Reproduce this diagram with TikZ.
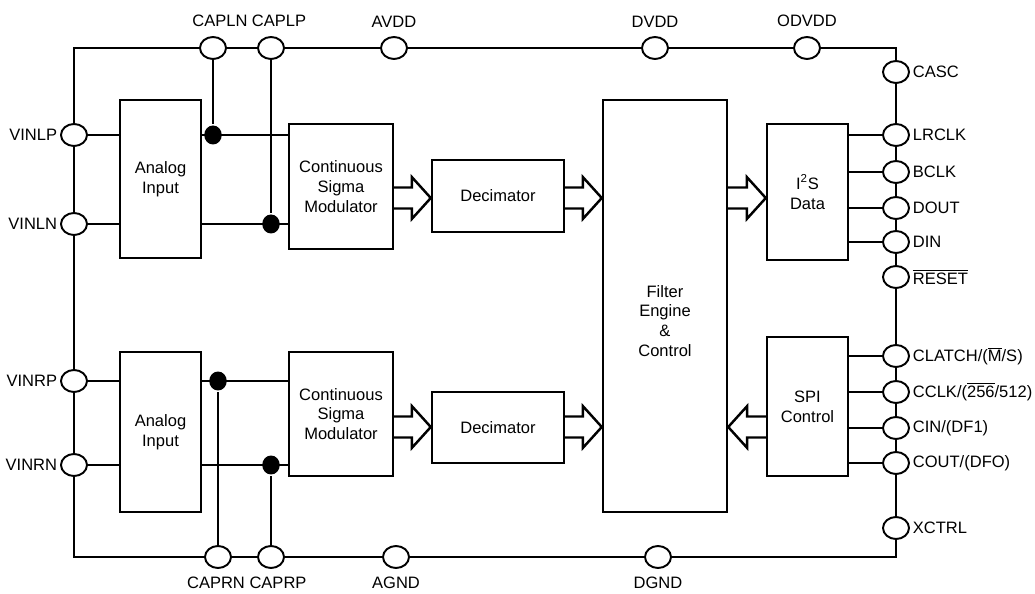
\documentclass[tikz,border=0pt]{standalone}
\usepackage{fontspec}
\setmainfont{Liberation Sans}
\usetikzlibrary{calc,shapes.geometric}

% hollow bus arrow from tail (#1) to tip (#2)
\newcommand{\busarrow}[2]{%
  \draw[bus] ($(#1)+(0,-10.5)$) -- ($(#2)!0.38cm!(#1)+(0,-10.5)$)
    -- ($(#2)!0.38cm!(#1)+(0,-21)$) -- (#2)
    -- ($(#2)!0.38cm!(#1)+(0,21)$) -- ($(#2)!0.38cm!(#1)+(0,10.5)$)
    -- ($(#1)+(0,10.5)$);}

\begin{document}
\begin{tikzpicture}[x=0.02cm,y=-0.02cm,line width=1.4pt,
  every node/.append style={font=\fontsize{9.4}{11.3}\selectfont},
  block/.style={draw,rectangle,align=center,inner sep=2pt,line width=1.4pt},
  iopad/.style={ellipse,draw,fill=white,line width=1.1pt,minimum width=0.52cm,
                minimum height=0.44cm,inner sep=0pt},
  lbl/.style={inner sep=1pt},
  padT/.style={iopad,label={[lbl,yshift=0.12cm]above:#1}},
  capT/.style 2 args={iopad,label={[lbl,yshift=0.12cm,xshift=#1]above:#2}},
  padB/.style={iopad,label={[lbl,inner sep=0.5pt,yshift=-0.12cm]below:#1}},
  capB/.style 2 args={iopad,label={[lbl,inner sep=0.5pt,yshift=-0.12cm,xshift=#1]below:#2}},
  padL/.style={iopad,label={[lbl]left:#1}},
  padR/.style={iopad,label={[lbl]right:#1}},
  junc/.style={ellipse,fill,minimum width=0.35cm,minimum height=0.38cm,inner sep=0pt},
  bus/.style={line width=1.4pt,line join=miter},
]
\useasboundingbox (0,0) rectangle (1035,594);

% Chip outline
\draw (74,48) rectangle (896,557);

% Top pins
\node[capT={0.14cm}{CAPLN}] (capln) at (213,48) {};
\node[capT={0.16cm}{CAPLP}] (caplp) at (271,48) {};
\node[padT=AVDD] (avdd) at (394,48) {};
\node[padT=DVDD] (dvdd) at (655,48) {};
\node[padT=ODVDD] (odvdd) at (807,48) {};

% Bottom pins
\node[capB={-0.04cm}{CAPRN}] (caprn) at (218,557) {};
\node[capB={0.14cm}{CAPRP}] (caprp) at (271,557) {};
\node[padB=AGND] (agnd) at (396,557) {};
\node[padB=DGND] (dgnd) at (658,557) {};

% Left pins
\node[padL=VINLP] (vinlp) at (74,135) {};
\node[padL=VINLN] (vinln) at (74,224) {};
\node[padL=VINRP] (vinrp) at (74,381) {};
\node[padL=VINRN] (vinrn) at (74,465) {};

% Right pins
\node[padR=CASC] (casc) at (896,72) {};
\node[padR=LRCLK] (lrclk) at (896,135) {};
\node[padR=BCLK] (bclk) at (896,172) {};
\node[padR=DOUT] (dout) at (896,208) {};
\node[padR=DIN] (din) at (896,242) {};
\node[padR={$\overline{\hbox{RESET}}$}] (reset) at (896,277) {};
\node[padR={CLATCH/($\overline{\hbox{M}}$/S)}] (clatch) at (896,356) {};
\node[padR={CCLK/($\overline{\hbox{256}}$/512)}] (cclk) at (896,392) {};
\node[padR={CIN/(DF1)}] (cin) at (896,428) {};
\node[padR={COUT/(DFO)}] (cout) at (896,463) {};
\node[padR=XCTRL] (xctrl) at (896,528) {};

% Blocks
\node[block,minimum width=1.62cm,minimum height=3.16cm] (anaL) at (160.5,179) {Analog\\Input};
\node[block,minimum width=1.62cm,minimum height=3.2cm] (anaR) at (160.5,432) {Analog\\Input};
\node[block,minimum width=2.08cm,minimum height=2.5cm] (csmL) at (341,186.5) {Continuous\\Sigma\\Modulator};
\node[block,minimum width=2.08cm,minimum height=2.48cm] (csmR) at (341,414) {Continuous\\Sigma\\Modulator};
\node[block,minimum width=2.64cm,minimum height=1.44cm] (decL) at (498,196) {Decimator};
\node[block,minimum width=2.64cm,minimum height=1.42cm] (decR) at (498,427.5) {Decimator};
\node[block,minimum width=2.48cm,minimum height=8.24cm,
      label={[align=center,yshift=-0.3cm]center:Filter\\Engine\\\&\\Control}] (filter) at (665,306) {};
\node[block,minimum width=1.62cm,minimum height=2.72cm] (i2s) at (807.5,192) {I\textsuperscript{2}S\\Data};
\node[block,minimum width=1.62cm,minimum height=2.78cm] (spi) at (807.5,406.5) {SPI\\Control};

% Capacitor junctions
\node[junc] (dotLP) at (213,135) {};
\node[junc] (dotLN) at (271,224) {};
\node[junc] (dotRP) at (218,381) {};
\node[junc] (dotRN) at (271,465) {};

% Analog inputs
\draw (vinlp) -- (vinlp -| anaL.west);
\draw (vinln) -- (vinln -| anaL.west);
\draw (vinrp) -- (vinrp -| anaR.west);
\draw (vinrn) -- (vinrn -| anaR.west);
\draw (anaL.east |- vinlp) -- (csmL.west |- vinlp);
\draw (anaL.east |- vinln) -- (csmL.west |- vinln);
\draw (anaR.east |- vinrp) -- (csmR.west |- vinrp);
\draw (anaR.east |- vinrn) -- (csmR.west |- vinrn);
\draw (capln) -- (dotLP);
\draw (caplp) -- (dotLN);
\draw (caprn) -- (dotRP);
\draw (caprp) -- (dotRN);

% Serial port lines
\draw (i2s.east |- lrclk) -- (lrclk);
\draw (i2s.east |- bclk) -- (bclk);
\draw (i2s.east |- dout) -- (dout);
\draw (i2s.east |- din) -- (din);
\draw (spi.east |- clatch) -- (clatch);
\draw (spi.east |- cclk) -- (cclk);
\draw (spi.east |- cin) -- (cin);
\draw (spi.east |- cout) -- (cout);

% Data buses
\coordinate (busL) at (0,198);
\coordinate (busR) at (0,427);
\busarrow{csmL.east |- busL}{decL.west |- busL}
\busarrow{decL.east |- busL}{filter.west |- busL}
\busarrow{csmR.east |- busR}{decR.west |- busR}
\busarrow{decR.east |- busR}{filter.west |- busR}
\busarrow{filter.east |- busL}{i2s.west |- busL}
\busarrow{spi.west |- busR}{filter.east |- busR}

\end{tikzpicture}
\end{document}
